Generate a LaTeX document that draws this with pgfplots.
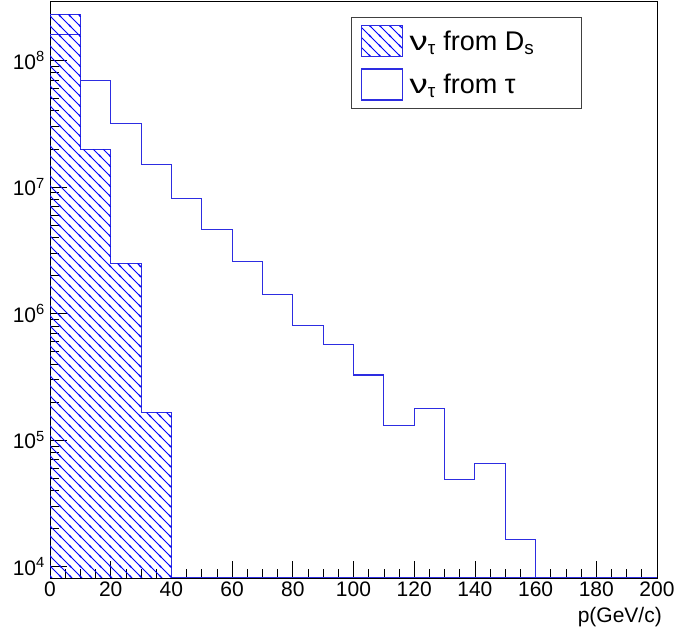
\documentclass[border=0pt]{standalone}
\usepackage{fontspec}
\setmainfont{Liberation Sans}
\usepackage{graphicx}
\usepackage{pgfplots}
\pgfplotsset{compat=1.18}
\usetikzlibrary{patterns.meta}
\definecolor{hblue}{RGB}{0,0,255}
\definecolor{lblue}{RGB}{45,45,225}

\tikzdeclarepattern{
  name=bluehatch,
  type=colored,
  bottom left={(-1pt,-1pt)},
  top right={(11pt,11pt)},
  tile size={(10pt,10pt)},
  code={
    \draw[hblue, line width=0.8pt] (-1pt,11pt) -- (11pt,-1pt);
    \draw[hblue, line width=0.8pt] (-1pt,1pt) -- (1pt,-1pt);
    \draw[hblue, line width=0.8pt] (9pt,11pt) -- (11pt,9pt);
  }
}
\newcommand{\nutau}{\scalebox{1.35}[1]{ν}\textsubscript{τ}}

\begin{document}
\begin{tikzpicture}
\begin{axis}[
  scale only axis, width=607pt, height=577pt,
  ymode=log, log origin=infty,
  xmin=0, xmax=200, ymin=8150, ymax=2.95e8,
  xtick={0,20,...,200}, minor x tick num=3,
  ytick={1e4,1e5,1e6,1e7,1e8},
  yticklabels={10\textsuperscript{4},10\textsuperscript{5},10\textsuperscript{6},10\textsuperscript{7},10\textsuperscript{8}},
  xtick pos=left, ytick pos=left,
  tick align=inside,
  major tick length=17pt, minor tick length=9pt,
  every tick/.style={black, line width=0.7pt},
  axis line style={line width=0.8pt},
  ticklabel style={font=\fontsize{21}{24}\selectfont},
  xticklabel style={inner sep=0pt, yshift=-4pt},
  yticklabel style={inner sep=0pt, xshift=-5pt},
  /pgf/number format/assume math mode=true,
  xlabel={p(GeV/c)},
  xlabel style={at={(rel axis cs:1,0)}, anchor=north east, inner sep=0pt, yshift=-29pt, xshift=5pt, font=\fontsize{21}{24}\selectfont},
  legend style={at={(0.8764,0.9722)}, anchor=north east, draw=black!75, line width=0.6pt,
    inner xsep=9pt, inner ysep=8pt, row sep=11pt, column sep=7pt,
    nodes={inner sep=0pt, font=\fontsize{27}{30}\selectfont}},
  legend cell align=left,
  legend image code/.code={\draw[#1] (0pt,-15.5pt) rectangle (41pt,15.5pt);},
]
% outline of the D_s histogram
\addplot[const plot, draw=lblue, line width=1.1pt, forget plot]
  coordinates {(0,2.31e8)(10,1.98e7)(20,2.49e6)(30,1.66e5)(40,8150)(200,8150)};
% tau histogram
\addplot[const plot, draw=lblue, line width=1.1pt, forget plot]
  coordinates {(0,1.60e8)(10,6.95e7)(20,3.16e7)(30,1.51e7)(40,8.09e6)(50,4.60e6)(60,2.57e6)(70,1.42e6)(80,8.0e5)(90,5.74e5)(100,3.27e5)(110,1.31e5)(120,1.79e5)(130,4.88e4)(140,6.52e4)(150,1.63e4)(160,8150)(200,8150)};
% hatch of the D_s histogram
\addplot[const plot, draw=none, pattern=bluehatch, forget plot]
  coordinates {(0,2.31e8)(10,1.98e7)(20,2.49e6)(30,1.66e5)(40,8150)} \closedcycle;
\addlegendimage{draw=lblue, line width=1.1pt, pattern=bluehatch}
\addlegendentry{\makebox[163pt][l]{\nutau{} from D\textsubscript{s}}}
\addlegendimage{draw=lblue, line width=1.1pt}
\addlegendentry{\nutau{} from τ}
\end{axis}
\pgfresetboundingbox
\path[use as bounding box] ([shift={(-50pt,-58pt)}]current axis.south west) rectangle ([shift={(21pt,1pt)}]current axis.north east);
\end{tikzpicture}
\end{document}
